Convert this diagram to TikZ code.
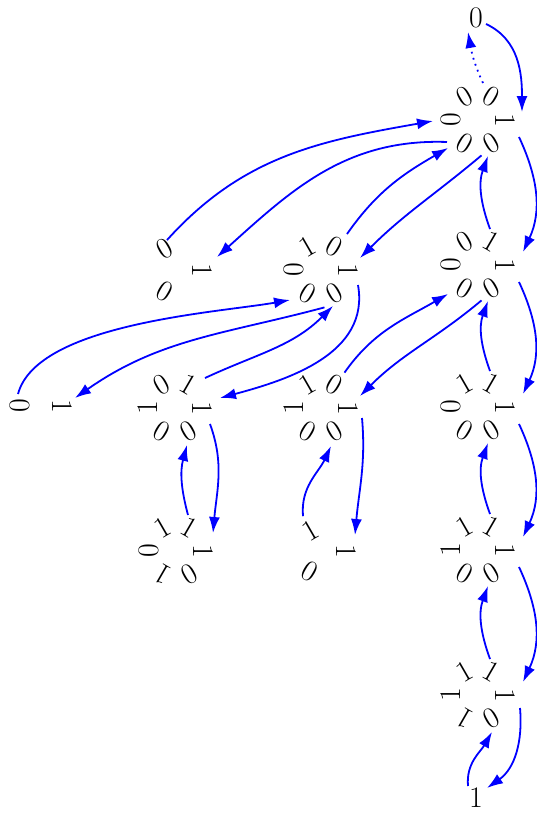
\documentclass[tikz,border=0pt]{standalone}
\usepackage{fontspec}
\usetikzlibrary{arrows.meta}

\newcommand\necklace[5]{%
  \foreach \d [count=\k from 0] in {#5}
    \path (#2) ++(#3*\k:#4) node[digit, rotate=#3*\k-90] (#1\k) {\d};
}

\begin{document}
\begin{tikzpicture}[
    x=1bp, y=1bp,
    digit/.style={inner sep=1bp, outer sep=0pt, font=\fontsize{30}{32}\selectfont},
    link/.style={draw=blue, line width=1.8bp, -{Latex[length=16bp,width=11bp]}},
    back/.style={link, dash pattern=on 1.8bp off 4.5bp}
]
\useasboundingbox (0,0) rectangle (537,-814);

\node[digit] (zero) at (476,-18) {0};
\node[digit] (one) at (476,-798) {1};
\necklace{A}{478,-120}{60}{27}{1,0,0,0,0,0}
\necklace{B}{478,-265}{60}{27}{1,1,0,0,0,0}
\necklace{C}{478,-407}{60}{27}{1,1,1,0,0,0}
\necklace{D}{478,-550}{60}{27}{1,1,1,1,0,0}
\necklace{E}{478,-695}{60}{27}{1,1,1,1,1,0}
\necklace{F}{321,-270}{60}{27}{1,0,1,0,0,0}
\necklace{G}{177,-270}{120}{25}{1,0,0}
\necklace{H}{175,-408}{60}{27}{1,1,0,1,0,0}
\necklace{I}{41,-406}{180}{21}{1,0}
\necklace{J}{321,-408}{60}{27}{1,0,1,1,0,0}
\necklace{K}{176,-551}{60}{27}{1,1,1,0,1,0}
\necklace{L}{322,-551}{120}{24}{1,1,0}

\draw[link] ([shift={(10,-6)}]zero.center) to[out=-25,in=90] ([shift={(17,8)}]A0.center);
\draw[back] ([shift={(-8.5,13.6)}]A1.center) to[out=115,in=-80] ([shift={(-8,-14)}]zero.center);

\draw[link] ([shift={(14,-17)}]A0.center) to[out=-65,in=65] ([shift={(18,13)}]B0.center);
\draw[link] ([shift={(14,-17)}]B0.center) to[out=-65,in=65] ([shift={(18,13)}]C0.center);
\draw[link] ([shift={(14,-17)}]C0.center) to[out=-65,in=65] ([shift={(18,13)}]D0.center);
\draw[link] ([shift={(14,-17)}]D0.center) to[out=-65,in=65] ([shift={(18,13)}]E0.center);
\draw[link] ([shift={(-1.5,12.6)}]B1.center) to[out=110,in=-110] ([shift={(-3.5,-12.6)}]A5.center);
\draw[link] ([shift={(-1.5,12.6)}]C1.center) to[out=110,in=-110] ([shift={(-3.5,-12.6)}]B5.center);
\draw[link] ([shift={(-1.5,12.6)}]D1.center) to[out=110,in=-110] ([shift={(-3.5,-12.6)}]C5.center);
\draw[link] ([shift={(-1.5,12.6)}]E1.center) to[out=110,in=-110] ([shift={(-3.5,-12.6)}]D5.center);
\draw[link] ([shift={(15,-13)}]E0.center) to[out=-85,in=35] ([shift={(11,10)}]one.center);
\draw[link] ([shift={(-8,12)}]one.center) to[out=95,in=-120] ([shift={(0.5,-13.6)}]E5.center);

\draw[link] ([shift={(-17.5,1.4)}]A4.center) to[out=178,in=42] ([shift={(15,13)}]G0.center);
\draw[link] ([shift={(2.5,8.3)}]G1.center) to[out=48,in=190] ([shift={(-18,-1)}]A3.center);
\draw[link] ([shift={(12.5,12.6)}]F1.center) to[out=55,in=-150] ([shift={(-16.5,-4.6)}]A4.center);
\draw[link] ([shift={(-10,-12)}]A5.center) to[out=-140,in=45] ([shift={(12,12)}]F0.center);
\draw[link] ([shift={(10,12)}]J1.center) to[out=55,in=-150] ([shift={(-16.5,-5.6)}]B4.center);
\draw[link] ([shift={(-10,-12)}]B5.center) to[out=-140,in=45] ([shift={(12,12)}]J0.center);

\draw[link] ([shift={(-2,12)}]I1.center) to[out=75,in=190,looseness=0.65] ([shift={(-17.5,-6.6)}]F4.center);
\draw[link] ([shift={(-10,-14)}]F5.center) to[out=195,in=35] ([shift={(13,8)}]I0.center);
\draw[link] ([shift={(16.5,6.6)}]H1.center) to[out=25,in=-135] ([shift={(-1.5,-12.6)}]F5.center);
\draw[link] ([shift={(10,-15)}]F0.center) to[out=-80,in=15] ([shift={(18,10)}]H0.center);
\draw[link] ([shift={(-1.5,12.6)}]K1.center) to[out=105,in=-105] ([shift={(-1.5,-13.6)}]H5.center);
\draw[link] ([shift={(8,-16)}]H0.center) to[out=-70,in=85] ([shift={(10,18)}]K0.center);
\draw[link] ([shift={(-7,14)}]L1.center) to[out=95,in=-115] ([shift={(-3.5,-14.6)}]J5.center);
\draw[link] ([shift={(14,-10)}]J0.center) to[out=-85,in=85] ([shift={(9,16)}]L0.center);
\end{tikzpicture}
\end{document}
